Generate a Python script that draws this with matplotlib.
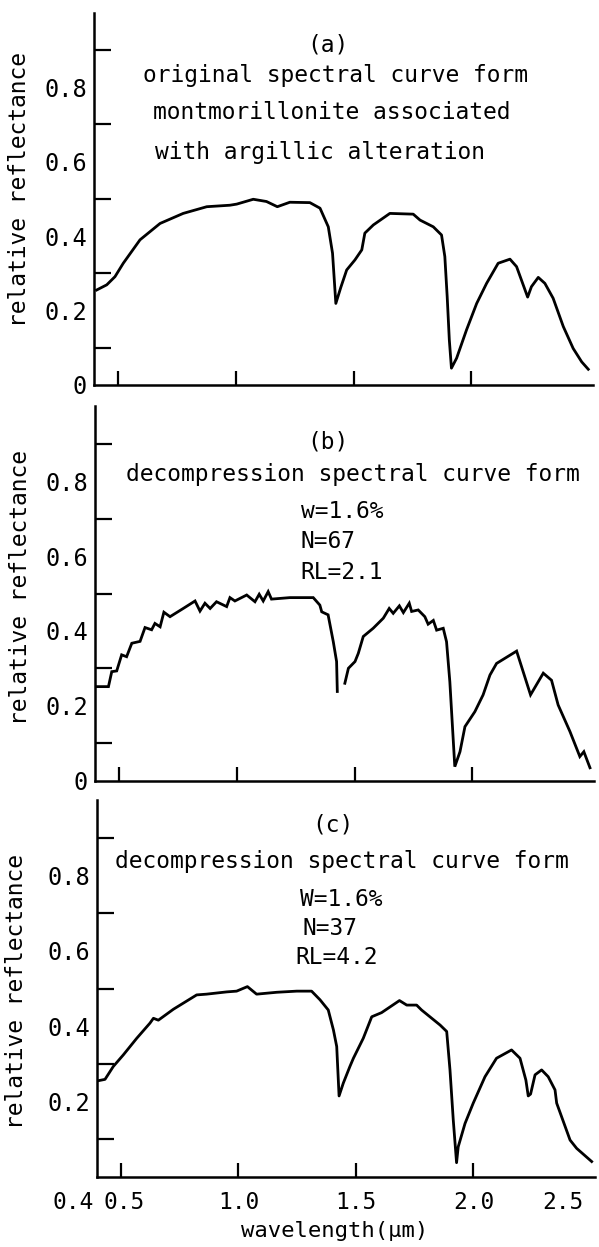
import numpy as np
import matplotlib
matplotlib.use("Agg")
import matplotlib.pyplot as plt
from matplotlib.transforms import ScaledTranslation

plt.rcParams['font.family'] = ['DejaVu Sans Mono']

# ---------------- data ----------------
wl_a = [0.411, 0.454, 0.489, 0.524, 0.595, 0.680, 0.778, 0.878, 0.976, 1.005, 1.075, 1.131,
        1.177, 1.230, 1.315, 1.358, 1.393, 1.411, 1.425, 1.446, 1.471, 1.506, 1.535, 1.548,
        1.584, 1.654, 1.753, 1.782, 1.838, 1.873, 1.887, 1.897, 1.906, 1.915, 1.937, 1.979,
        2.022, 2.064, 2.113, 2.163, 2.191, 2.238, 2.254, 2.283, 2.311, 2.346, 2.389, 2.431,
        2.467, 2.495]
refl_a = [0.255, 0.269, 0.291, 0.327, 0.390, 0.434, 0.461, 0.479, 0.483, 0.486, 0.499, 0.493,
          0.479, 0.491, 0.490, 0.475, 0.425, 0.354, 0.219, 0.262, 0.309, 0.336, 0.363, 0.408,
          0.430, 0.461, 0.459, 0.443, 0.425, 0.403, 0.345, 0.237, 0.121, 0.045, 0.072, 0.148,
          0.219, 0.273, 0.327, 0.338, 0.318, 0.236, 0.264, 0.289, 0.273, 0.233, 0.157, 0.098,
          0.062, 0.042]

wl_b = [0.407, 0.457, 0.471, 0.492, 0.513, 0.534, 0.556, 0.591, 0.612, 0.640, 0.654, 0.676,
        0.692, 0.718, 0.774, 0.824, 0.845, 0.866, 0.888, 0.915, 0.958, 0.972, 0.993, 1.043,
        1.078, 1.096, 1.113, 1.134, 1.148, 1.226, 1.325, 1.353, 1.361, 1.388, 1.410, 1.424,
        1.427, np.nan, 1.459, 1.474, 1.502, 1.516, 1.537, 1.579, 1.622, 1.647, 1.664, 1.690,
        1.707, 1.732, 1.742, 1.770, 1.798, 1.812, 1.834, 1.848, 1.876, 1.890, 1.904, 1.925,
        1.947, 1.968, 2.010, 2.045, 2.074, 2.102, 2.187, 2.246, 2.300, 2.335, 2.363, 2.413,
        2.455, 2.472, 2.498]
refl_b = [0.251, 0.251, 0.291, 0.293, 0.336, 0.331, 0.367, 0.372, 0.409, 0.403, 0.420, 0.411,
          0.450, 0.438, 0.460, 0.480, 0.453, 0.474, 0.460, 0.478, 0.465, 0.489, 0.480, 0.496,
          0.478, 0.498, 0.480, 0.505, 0.485, 0.489, 0.489, 0.469, 0.451, 0.443, 0.371, 0.318,
          0.238, np.nan, 0.260, 0.300, 0.318, 0.340, 0.385, 0.407, 0.434, 0.460, 0.447, 0.467,
          0.449, 0.474, 0.452, 0.456, 0.438, 0.418, 0.428, 0.402, 0.407, 0.371, 0.264, 0.037,
          0.077, 0.144, 0.184, 0.229, 0.282, 0.313, 0.346, 0.229, 0.287, 0.268, 0.202, 0.131,
          0.064, 0.077, 0.034]

wl_c = [0.400, 0.432, 0.467, 0.510, 0.567, 0.623, 0.638, 0.659, 0.723, 0.822, 0.864, 0.950,
        0.992, 1.038, 1.077, 1.163, 1.248, 1.311, 1.347, 1.382, 1.404, 1.418, 1.428, 1.446,
        1.474, 1.489, 1.531, 1.567, 1.609, 1.685, 1.716, 1.758, 1.779, 1.858, 1.886, 1.900,
        1.914, 1.928, 1.935, 1.964, 1.999, 2.049, 2.098, 2.162, 2.198, 2.223, 2.233, 2.243,
        2.262, 2.290, 2.318, 2.347, 2.354, 2.411, 2.439, 2.503]
refl_c = [0.255, 0.259, 0.293, 0.324, 0.368, 0.408, 0.421, 0.416, 0.445, 0.483, 0.485, 0.491,
          0.493, 0.505, 0.485, 0.490, 0.493, 0.493, 0.470, 0.443, 0.390, 0.346, 0.215, 0.249,
          0.293, 0.315, 0.368, 0.425, 0.436, 0.468, 0.456, 0.456, 0.443, 0.403, 0.386, 0.284,
          0.151, 0.038, 0.080, 0.142, 0.196, 0.266, 0.315, 0.337, 0.315, 0.257, 0.215, 0.220,
          0.271, 0.284, 0.266, 0.231, 0.196, 0.098, 0.076, 0.041]

ytick_marks = [0.1, 0.3, 0.5, 0.7, 0.9]
ytick_vals = [0.0, 0.2, 0.4, 0.6, 0.8]
ytick_labels = ['0', '0.2', '0.4', '0.6', '0.8']
xtick_marks = [0.5, 1.0, 1.5, 2.0]
xtick_vals = [0.4, 0.5, 1.0, 1.5, 2.0, 2.5]
xtick_labels = ['0.4', '0.5', '1.0', '1.5', '2.0', '2.5']

ylabel = 'relative reflectance'
xlabel = 'wavelength(\u03bcm)'

panel_a_text = ['original spectral curve form', 'montmorillonite associated',
                'with argillic alteration']
panel_b_params = ['w=1.6%', 'N=67', 'RL=2.1']
panel_c_params = ['W=1.6%', 'N=37', 'RL=4.2']
decomp_title = 'decompression spectral curve form'

# ---------------- figure ----------------
W, H = 599, 1247
fig = plt.figure(figsize=(W / 100, H / 100), dpi=100)

def make_ax(x0, y0, pxw, pxh):
    return fig.add_axes([x0 / W, 1 - y0 / H, pxw / W, pxh / H])

ax_a = make_ax(94, 384.9, 499, 372)
ax_b = make_ax(95, 780.5, 499, 374)
ax_c = make_ax(97.5, 1177, 497, 377)

FS = 16.5
LW = 2.0

def style(ax, show_zero=True, show_x=False):
    ax.set_xlim(0.4, 2.515)
    ax.set_ylim(0, 1.0)
    ax.xaxis.remove_overlapping_locs = False
    for s in ['top', 'right']:
        ax.spines[s].set_visible(False)
    for s in ['left', 'bottom']:
        ax.spines[s].set_linewidth(1.8)
    ax.set_yticks(ytick_marks)
    ax.set_yticklabels([''] * len(ytick_marks))
    vals = ytick_vals if show_zero else ytick_vals[1:]
    labs = ytick_labels if show_zero else ytick_labels[1:]
    ax.set_yticks(vals, minor=True)
    ax.set_yticklabels(labs, minor=True, fontsize=FS + 0.5)
    ax.tick_params(axis='y', which='major', direction='in', length=12, width=1.6)
    ax.tick_params(axis='y', which='minor', length=0, pad=5)
    ax.set_xticks(xtick_marks)
    ax.set_xticklabels([''] * len(xtick_marks))
    ax.tick_params(axis='x', which='major', direction='in', length=10, width=1.6)
    if show_x:
        ax.set_xticks(xtick_vals, minor=True)
        ax.set_xticklabels(xtick_labels, minor=True, fontsize=FS)
        ax.tick_params(axis='x', which='minor', length=0, pad=10)
        mlabels = ax.get_xticklabels(minor=True)
        mlabels[0].set_horizontalalignment('right')
        mlabels[0].set_transform(mlabels[0].get_transform() +
                                 ScaledTranslation(-4 / 100, 0, fig.dpi_scale_trans))
        mlabels[1].set_transform(mlabels[1].get_transform() +
                                 ScaledTranslation(3 / 100, 0, fig.dpi_scale_trans))
        mlabels[-1].set_horizontalalignment('right')
        mlabels[-1].set_transform(mlabels[-1].get_transform() +
                                  ScaledTranslation(-7 / 100, 0, fig.dpi_scale_trans))
    ax.set_ylabel(ylabel, fontsize=FS)
    ax.patch.set_alpha(0)

style(ax_a, show_zero=True)
style(ax_b, show_zero=True)
style(ax_c, show_zero=False, show_x=True)

ax_a.plot(wl_a, refl_a, color='black', lw=LW, solid_joinstyle='round')
ax_b.plot(wl_b, refl_b, color='black', lw=LW, solid_joinstyle='miter')
ax_c.plot(wl_c, refl_c, color='black', lw=LW, solid_joinstyle='round')

ax_a.yaxis.set_label_coords(-0.126, 0.524)
ax_b.yaxis.set_label_coords(-0.126, 0.515)
ax_c.yaxis.set_label_coords(-0.140, 0.493)

ax_c.set_xlabel(xlabel, fontsize=16)
ax_c.xaxis.set_label_coords(0.478, -0.118)

# panel annotations
ax_a.text(0.469, 0.914, '(a)', transform=ax_a.transAxes, ha='center', va='center', fontsize=FS)
for txt, xx, yy in zip(panel_a_text, [0.098, 0.118, 0.122], [0.833, 0.733, 0.626]):
    ax_a.text(xx, yy, txt, transform=ax_a.transAxes, ha='left', va='center', fontsize=FS)

ax_b.text(0.467, 0.905, '(b)', transform=ax_b.transAxes, ha='center', va='center', fontsize=FS)
ax_b.text(0.062, 0.817, decomp_title, transform=ax_b.transAxes, ha='left', va='center', fontsize=FS)
for txt, xx, yy in zip(panel_b_params, [0.413, 0.411, 0.411], [0.718, 0.638, 0.555]):
    ax_b.text(xx, yy, txt, transform=ax_b.transAxes, ha='left', va='center', fontsize=FS)

ax_c.text(0.474, 0.934, '(c)', transform=ax_c.transAxes, ha='center', va='center', fontsize=FS)
ax_c.text(0.035, 0.836, decomp_title, transform=ax_c.transAxes, ha='left', va='center', fontsize=FS)
for txt, xx, yy in zip(panel_c_params, [0.408, 0.412, 0.398], [0.735, 0.660, 0.581]):
    ax_c.text(xx, yy, txt, transform=ax_c.transAxes, ha='left', va='center', fontsize=FS)

fig.savefig('out.png', dpi=100, facecolor='white')
